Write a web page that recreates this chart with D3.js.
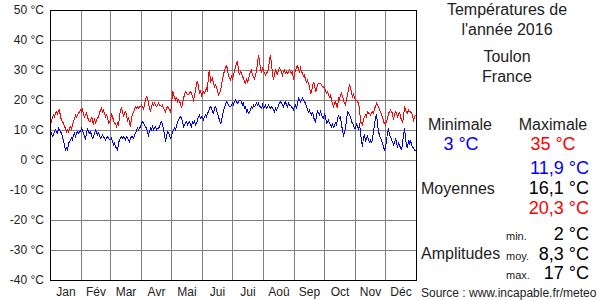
<!DOCTYPE html>
<html>
<head>
<meta charset="utf-8">
<script src="https://cdn.jsdelivr.net/npm/d3@7"></script>
<style>
  body { margin: 0; background: #fff; }
  svg { display: block; font-family: "Liberation Sans", Arial, sans-serif; }
</style>
</head>
<body>
<svg id="chart" width="600" height="300"></svg>
<script>
// --- données ---
const months = ["Jan", "Fév", "Mar", "Avr", "Mai", "Jui", "Jui", "Aoû", "Sep", "Oct", "Nov", "Déc"];
const monthDays = [31, 29, 31, 30, 31, 30, 31, 31, 30, 31, 30, 31];
const yTicks = [50, 40, 30, 20, 10, 0, -10, -20, -30, -40];

// températures maximales journalières 2016
const tMax = [
  13.3, 12.8, 14.2, 15.0, 14.4, 15.6, 16.1, 15.3, 16.4, 16.7,
  14.4, 13.3, 12.8, 12.2, 11.1, 10.6, 9.4, 10.0, 9.4, 10.6,
  11.1, 10.0, 11.7, 12.8, 13.9, 15.0, 14.4, 15.0, 15.6, 16.1,
  16.7, 16.1, 17.2, 15.0, 14.4, 15.0, 15.6, 14.4, 13.3, 12.8,
  12.8, 14.4, 13.3, 11.7, 13.9, 12.2, 13.3, 13.9, 14.4, 15.6,
  16.7, 17.2, 16.1, 16.7, 15.6, 14.4, 15.0, 14.4, 12.2, 12.8,
  13.3, 15.6, 14.4, 13.3, 12.2, 12.2, 11.1, 12.2, 11.7, 14.4,
  16.7, 17.2, 16.1, 14.4, 15.6, 16.1, 15.0, 12.8, 14.4, 12.2,
  11.1, 14.4, 15.0, 16.1, 16.7, 17.8, 17.2, 17.8, 17.2, 17.8,
  17.8, 18.3, 17.8, 16.7, 18.3, 20.0, 21.1, 20.6, 18.9, 17.2,
  16.1, 17.8, 18.9, 18.3, 18.9, 18.3, 17.8, 18.3, 18.9, 18.3,
  18.3, 17.8, 18.3, 17.2, 16.7, 16.1, 17.2, 17.8, 17.2, 16.7,
  16.1, 17.8, 22.8, 22.2, 20.6, 20.0, 21.1, 19.4, 20.0, 19.4,
  18.9, 17.2, 18.9, 20.6, 21.7, 22.8, 22.2, 21.7, 21.7, 22.2,
  22.8, 22.2, 21.1, 20.0, 21.1, 23.3, 25.6, 26.1, 24.4, 22.2,
  23.3, 21.1, 22.2, 22.8, 22.2, 23.3, 23.9, 22.8, 28.9, 30.0,
  26.1, 26.7, 27.2, 25.6, 24.4, 25.0, 24.4, 22.8, 21.7, 22.2,
  23.3, 24.4, 27.2, 28.3, 30.0, 30.6, 31.7, 30.0, 28.3, 27.2,
  26.7, 27.8, 26.7, 28.3, 29.4, 31.1, 32.2, 32.8, 30.0, 28.3,
  29.4, 28.9, 27.8, 27.2, 26.1, 25.6, 27.2, 26.1, 26.7, 28.3,
  29.4, 30.0, 28.3, 27.8, 26.7, 28.3, 29.4, 32.2, 35.0, 33.3,
  30.0, 29.4, 30.6, 30.0, 28.9, 28.3, 28.9, 29.4, 30.6, 33.3,
  35.0, 31.7, 28.9, 26.7, 28.3, 30.0, 29.4, 28.3, 30.0, 30.6,
  30.0, 29.4, 28.3, 29.4, 30.0, 28.9, 29.4, 28.9, 29.4, 30.0,
  29.4, 28.9, 29.4, 26.7, 28.3, 30.0, 30.6, 31.7, 30.0, 29.4,
  30.6, 29.4, 28.9, 27.8, 28.3, 26.7, 26.1, 26.7, 25.6, 24.4,
  22.2, 22.8, 24.4, 26.1, 25.0, 22.8, 23.3, 25.0, 25.6, 25.6,
  25.6, 25.0, 24.4, 24.4, 23.9, 23.3, 22.2, 22.8, 21.7, 21.1,
  21.7, 20.0, 18.9, 17.8, 18.9, 19.4, 18.3, 17.2, 20.6, 20.0,
  21.7, 22.2, 21.1, 20.0, 18.9, 18.3, 20.0, 21.7, 23.3, 25.0,
  24.4, 22.2, 21.1, 22.2, 20.6, 20.0, 20.0, 19.4, 18.9, 17.2,
  12.8, 12.2, 11.7, 13.3, 14.4, 15.0, 14.4, 16.1, 15.6, 15.6,
  15.0, 15.6, 16.1, 15.6, 17.2, 17.8, 18.9, 18.3, 17.8, 16.7,
  16.1, 15.0, 14.4, 12.8, 12.2, 11.7, 12.8, 13.9, 15.6, 16.1,
  16.7, 16.1, 15.6, 13.3, 15.0, 16.1, 15.6, 14.4, 15.0, 16.1,
  14.4, 13.3, 12.8, 13.9, 17.8, 16.7, 16.1, 15.6, 16.7, 16.1,
  16.1, 15.6, 15.0, 12.8, 14.4, 15.0
];

// températures minimales journalières 2016
const tMin = [
  8.3, 8.9, 7.8, 8.3, 9.4, 10.0, 9.4, 8.9, 10.6, 10.0,
  9.4, 8.9, 7.8, 6.1, 5.0, 3.3, 3.9, 3.3, 5.6, 6.1,
  6.7, 7.2, 6.7, 8.3, 8.9, 7.8, 8.9, 9.4, 8.9, 9.4,
  9.4, 10.6, 10.0, 8.9, 7.8, 6.7, 8.9, 10.6, 9.4, 8.9,
  9.4, 8.3, 7.2, 7.8, 8.9, 10.0, 9.4, 8.3, 8.9, 8.3,
  7.2, 7.8, 8.3, 7.8, 7.2, 6.7, 7.2, 7.8, 7.2, 6.7,
  6.7, 7.2, 6.1, 5.0, 5.6, 4.4, 3.9, 3.3, 5.6, 6.7,
  7.2, 7.8, 7.2, 7.8, 7.2, 6.7, 7.8, 7.2, 6.7, 6.1,
  7.2, 7.8, 7.8, 7.2, 8.3, 8.9, 10.0, 10.6, 10.0, 10.6,
  11.1, 12.2, 12.8, 12.2, 11.7, 11.1, 10.6, 9.4, 8.3, 9.4,
  10.6, 10.0, 11.1, 10.0, 10.6, 11.1, 10.0, 10.6, 10.6, 11.1,
  12.2, 12.8, 11.7, 10.6, 8.3, 6.1, 7.8, 9.4, 8.9, 8.3,
  7.2, 7.8, 9.4, 10.0, 10.6, 10.0, 11.1, 12.8, 13.3, 13.9,
  14.4, 13.9, 12.8, 11.1, 11.7, 12.2, 12.8, 11.7, 12.2, 12.8,
  11.7, 11.1, 12.8, 12.2, 13.3, 11.7, 12.2, 13.3, 14.4, 15.0,
  13.9, 14.4, 13.9, 13.3, 14.4, 15.0, 14.4, 15.6, 16.1, 17.2,
  17.8, 17.2, 16.1, 15.6, 17.2, 17.8, 16.7, 15.6, 14.4, 13.3,
  12.2, 12.8, 15.0, 16.1, 17.8, 18.3, 19.4, 18.9, 18.3, 17.8,
  17.8, 18.3, 18.9, 18.3, 19.4, 20.0, 19.4, 18.9, 19.4, 20.0,
  20.0, 19.4, 18.3, 18.9, 17.2, 17.8, 16.1, 16.7, 15.6, 16.1,
  16.7, 17.8, 17.2, 18.3, 17.8, 18.3, 18.9, 18.3, 18.9, 17.8,
  17.8, 17.2, 18.3, 17.2, 17.8, 18.3, 17.2, 17.8, 18.3, 17.8,
  17.2, 17.8, 17.2, 16.7, 16.1, 17.2, 16.7, 17.2, 18.3, 18.9,
  19.4, 18.9, 18.3, 17.8, 18.9, 19.4, 18.3, 17.8, 18.9, 18.3,
  18.3, 17.8, 17.2, 16.7, 17.8, 18.3, 17.2, 18.9, 20.6, 20.0,
  19.4, 20.0, 20.6, 20.0, 19.4, 18.9, 17.8, 16.7, 16.1, 16.7,
  15.6, 15.0, 16.1, 14.4, 13.3, 12.8, 14.4, 16.7, 15.6, 15.0,
  16.1, 15.0, 14.4, 13.9, 15.6, 14.4, 12.2, 12.8, 13.3, 12.2,
  11.7, 11.1, 12.2, 10.6, 11.7, 12.2, 11.7, 13.3, 15.0, 13.9,
  14.4, 11.7, 10.0, 7.8, 9.4, 10.6, 13.3, 16.1, 15.6, 15.0,
  14.4, 12.8, 12.2, 11.7, 10.6, 10.6, 12.2, 11.1, 10.0, 12.2,
  8.9, 6.7, 4.4, 7.8, 8.3, 6.1, 7.2, 8.3, 6.7, 6.1,
  6.7, 5.6, 7.2, 9.4, 11.7, 14.4, 15.0, 12.2, 9.4, 8.3,
  7.2, 6.7, 5.6, 4.4, 3.3, 3.9, 6.7, 8.9, 10.6, 8.3,
  7.8, 6.7, 6.1, 5.0, 5.6, 7.2, 6.1, 3.9, 6.1, 4.4,
  4.4, 3.3, 5.6, 8.3, 10.6, 7.2, 5.0, 3.9, 6.7, 5.6,
  6.7, 5.0, 4.4, 3.9, 3.3, 3.3
];

// textes du panneau de droite
const titleLines = ["Températures de", "l'année 2016"];
const placeLines = ["Toulon", "France"];
const extremes = ["3 °C", "35 °C"];
const moyennes = ["11,9 °C", "16,1 °C", "20,3 °C"];
const amplitudeLabels = ["min.", "moy.", "max."];
const amplitudes = ["2 °C", "8,3 °C", "17 °C"];

// --- mise en page ---
const svg = d3.select("#chart");
const plot = { left: 50, right: 416, top: 10, bottom: 280 };
const textColor = "#222";

const x = d3.scaleLinear().domain([0, 366]).range([plot.left, plot.right]);
const y = d3.scaleLinear().domain([-40, 50]).range([plot.bottom, plot.top]);

// début de chaque mois (en jours)
const monthStarts = [];
monthDays.reduce((acc, n) => { monthStarts.push(acc); return acc + n; }, 0);

// grille horizontale + étiquettes °C
const yAxis = svg.append("g")
  .attr("transform", `translate(${plot.left},0)`)
  .call(d3.axisLeft(y)
    .tickValues(yTicks)
    .tickSize(-(plot.right - plot.left))
    .tickPadding(6)
    .tickFormat(d => d + " °C"));
yAxis.select(".domain").remove();
yAxis.selectAll("line").attr("stroke", "#808080").attr("shape-rendering", "crispEdges");
yAxis.selectAll("text").attr("font-size", "12px").attr("fill", textColor)
  .attr("font-family", "Liberation Sans, Arial, sans-serif");

// grille verticale (mois)
svg.append("g")
  .selectAll("line")
  .data(monthStarts.slice(1))
  .join("line")
  .attr("x1", d => x(d)).attr("x2", d => x(d))
  .attr("y1", plot.top).attr("y2", plot.bottom)
  .attr("stroke", "#808080")
  .attr("shape-rendering", "crispEdges");

// étiquettes des mois
const xAxis = svg.append("g")
  .attr("transform", `translate(0,${plot.bottom})`)
  .call(d3.axisBottom(x)
    .tickValues(monthStarts.map((s, i) => s + monthDays[i] / 2))
    .tickSize(0)
    .tickPadding(7)
    .tickFormat((d, i) => months[i]));
xAxis.select(".domain").remove();
xAxis.selectAll("text").attr("font-size", "12px").attr("fill", textColor)
  .attr("font-family", "Liberation Sans, Arial, sans-serif");

// courbes
const line = d3.line()
  .x((d, i) => x(i + 0.5))
  .y(d => y(d));

svg.append("path")
  .datum(tMax)
  .attr("d", line)
  .attr("fill", "none")
  .attr("stroke", "#ff0000")
  .attr("stroke-width", 1)
  .attr("shape-rendering", "crispEdges");

svg.append("path")
  .datum(tMin)
  .attr("d", line)
  .attr("fill", "none")
  .attr("stroke", "#0000ff")
  .attr("stroke-width", 1)
  .attr("shape-rendering", "crispEdges");

// cadre
svg.append("rect")
  .attr("x", plot.left).attr("y", plot.top)
  .attr("width", plot.right - plot.left)
  .attr("height", plot.bottom - plot.top)
  .attr("fill", "none")
  .attr("stroke", "#000")
  .attr("shape-rendering", "crispEdges");

// --- panneau de droite ---
const panel = svg.append("g").attr("fill", textColor).attr("font-size", "16px");
const cx = 507;

titleLines.forEach((t, i) => {
  panel.append("text").attr("x", cx).attr("y", 15 + i * 20)
    .attr("text-anchor", "middle").text(t);
});
placeLines.forEach((t, i) => {
  panel.append("text").attr("x", cx).attr("y", 62 + i * 20)
    .attr("text-anchor", "middle").text(t);
});

panel.append("text").attr("x", 460).attr("y", 130).attr("text-anchor", "middle").text("Minimale");
panel.append("text").attr("x", 553).attr("y", 130).attr("text-anchor", "middle").text("Maximale");
panel.append("text").attr("x", 461).attr("y", 150).attr("text-anchor", "middle")
  .attr("font-size", "18px").attr("fill", "#0000ff").text(extremes[0]);
panel.append("text").attr("x", 553).attr("y", 150).attr("text-anchor", "middle")
  .attr("font-size", "18px").attr("fill", "#ff0000").text(extremes[1]);

const moyColors = ["#0000ff", "#000", "#ff0000"];
moyennes.forEach((t, i) => {
  panel.append("text").attr("x", 589).attr("y", 174 + i * 20)
    .attr("text-anchor", "end").attr("font-size", "18px")
    .attr("fill", moyColors[i]).text(t);
});
panel.append("text").attr("x", 421).attr("y", 194).text("Moyennes");

amplitudes.forEach((t, i) => {
  panel.append("text").attr("x", 506).attr("y", 240 + i * 19.5)
    .attr("font-size", "11px").text(amplitudeLabels[i]);
  panel.append("text").attr("x", 589).attr("y", 240 + i * 19.5)
    .attr("text-anchor", "end").attr("font-size", "18px").attr("fill", "#000").text(t);
});
panel.append("text").attr("x", 421).attr("y", 259).text("Amplitudes");

panel.append("text").attr("x", 421).attr("y", 297)
  .attr("font-size", "12px").text("Source : www.incapable.fr/meteo");
</script>
</body>
</html>
